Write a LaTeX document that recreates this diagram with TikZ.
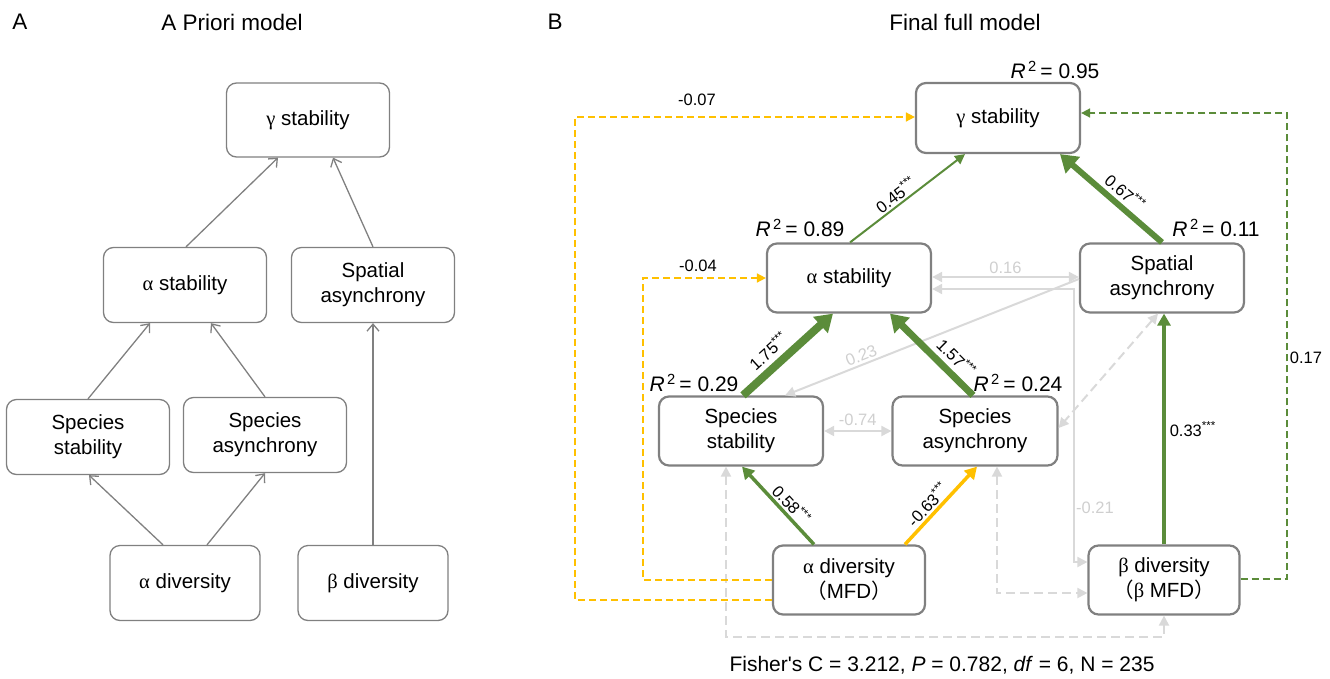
\documentclass[tikz,border=0pt]{standalone}
\usepackage{fontspec}
\setmainfont{Liberation Sans}
\newfontfamily\grk{Liberation Serif}
\newfontfamily\cjkfont{Noto Sans CJK SC}
\usetikzlibrary{arrows.meta,calc}
\definecolor{agray}{HTML}{808080}
\definecolor{lgray}{HTML}{D9D9D9}
\definecolor{lgtext}{HTML}{CFCFCF}
\definecolor{sgreen}{HTML}{5B8C3A}
\definecolor{syellow}{HTML}{FFC000}
\newcommand\myfs[2]{\fontsize{#1}{#2}\selectfont}
\newcommand\stars{\textsuperscript{***}}
\newcommand\rsq[1]{\textit{R}\textsuperscript{\,2}\,= #1}
\begin{document}
\begin{tikzpicture}[x=1pt,y=-1pt,
  boxA/.style={draw=agray, line width=1.3pt, rounded corners=10pt, fill=white, align=center, font=\myfs{20.5}{25}, inner sep=0pt},
  boxB/.style={draw=agray, line width=2.2pt, rounded corners=10pt, fill=white, align=center, font=\myfs{20.5}{25}, inner sep=0pt},
  arrA/.style={draw=agray, line width=1.3pt, -{Straight Barb[length=7pt,width=12pt,line width=1.3pt]}},
  lab/.style={font=\myfs{16.5}{19}, inner sep=2pt},
  rlab/.style={font=\myfs{21}{24}, inner sep=0pt},
  ttl/.style={font=\myfs{22.5}{26}, inner sep=0pt},
  gthin/.style={draw=sgreen, line width=2pt, -{Triangle[length=10pt,width=10pt]}},
  gmid/.style={draw=sgreen, line width=3.5pt, -{Triangle[length=12pt,width=13pt]}},
  ymid/.style={draw=syellow, line width=3.5pt, -{Triangle[length=12pt,width=13pt]}},
  gthick/.style={draw=sgreen, line width=#1, -{Triangle[length=17pt,width=21pt]}},
  lg/.style={draw=lgray, line width=2pt},
  lgd/.style={draw=lgray, line width=2pt, dash pattern=on 9pt off 5pt},
  lgtip/.style={{Triangle[length=10pt,width=10pt]}-{Triangle[length=10pt,width=10pt]}},
  ydash/.style={draw=syellow, line width=1.6pt, dash pattern=on 7pt off 4pt, -{Triangle[length=9pt,width=9pt]}},
  gdash/.style={draw=sgreen, line width=1.6pt, dash pattern=on 7pt off 4pt, -{Triangle[length=9pt,width=9pt]}}
]
\useasboundingbox (0,0) rectangle (1330,678);

% ---------- Panel A ----------
\node[ttl] (labA) at (20,22) {A};
\node[ttl] (titA) at (232,22) {A Priori model};
\node[boxA, minimum width=163pt, minimum height=74pt] (gA) at (308,120) {{\grk γ} stability};
\node[boxA, minimum width=163pt, minimum height=75pt] (asA) at (185,285) {{\grk α} stability};
\node[boxA, minimum width=163pt, minimum height=75pt] (spA) at (373,285) {Spatial\\asynchrony};
\node[boxA, minimum width=163pt, minimum height=75pt] (ssA) at (88,437) {Species\\stability};
\node[boxA, minimum width=163pt, minimum height=75pt] (saA) at (265,435) {Species\\asynchrony};
\node[boxA, minimum width=150pt, minimum height=75pt] (adA) at (185,583) {{\grk α} diversity};
\node[boxA, minimum width=150pt, minimum height=75pt] (bdA) at (373,583) {{\grk β} diversity};

\draw[arrA] ([xshift=1pt]asA.north) -- ([xshift=-30pt]gA.south);
\draw[arrA] (spA.north) -- ([xshift=25pt]gA.south);
\draw[arrA] (ssA.north) -- ([xshift=-35pt]asA.south);
\draw[arrA] (saA.north) -- ([xshift=26pt]asA.south);
\draw[arrA] ([xshift=-22pt]adA.north) -- ([xshift=1pt]ssA.south);
\draw[arrA] ([xshift=22pt]adA.north) -- (saA.south);
\draw[arrA] (bdA.north) -- (spA.south);

% ---------- Panel B ----------
\node[ttl] (labB) at (555,22) {B};
\node[ttl] (titB) at (965,22) {Final full model};

\node[boxB, minimum width=164pt, minimum height=70pt] (gB) at (998,118) {{\grk γ} stability};
\node[boxB, minimum width=164pt, minimum height=69pt] (asB) at (849,278) {{\grk α} stability};
\node[boxB, minimum width=164pt, minimum height=69pt] (spB) at (1162,278) {Spatial\\asynchrony};
\node[boxB, minimum width=164pt, minimum height=69pt] (ssB) at (741,431) {Species\\stability};
\node[boxB, minimum width=165pt, minimum height=69pt] (saB) at (975,431) {Species\\asynchrony};
\node[boxB, minimum width=152pt, minimum height=69pt] (adB) at (849,580) {{\grk α} diversity\\{\cjkfont （}MFD{\cjkfont ）}};
\node[boxB, minimum width=151pt, minimum height=69pt] (bdB) at (1164,580) {{\grk β} diversity\\{\cjkfont （}{\grk β} MFD{\cjkfont ）}};

% R^2 labels
\node[rlab] (r1) at (1055,70) {\rsq{0.95}};
\node[rlab] (r2) at (800,228) {\rsq{0.89}};
\node[rlab] (r3) at (1216,228) {\rsq{0.11}};
\node[rlab] (r4) at (694,383) {\rsq{0.29}};
\node[rlab] (r5) at (1018,383) {\rsq{0.24}};

% light gray connections (drawn first)
\draw[lg, lgtip] ([yshift=1pt]asB.east) -- node[lab, above, text=lgtext] {0.16} ([yshift=1pt]spB.west);
\coordinate (c21) at (1074,289);
\draw[lg, lgtip] ([yshift=-11pt]asB.east) -- (c21) |- ([yshift=18pt]bdB.west);
\node[lab, text=lgtext] (l21) at (1095,508) {-0.21};
\draw[lg, -{Triangle[length=10pt,width=10pt]}] ([yshift=-1pt]spB.west) -- node[lab, pos=0.73, sloped, above, text=lgtext] {0.23} ([xshift=44pt]ssB.north);
\draw[lgd, lgtip] ([xshift=-4pt]spB.south) -- ([yshift=3pt]saB.east);
\draw[lg, lgtip] (ssB.east) -- node[lab, above, text=lgtext, yshift=2pt] {-0.74} (saB.west);
\coordinate (c3) at (946,637);
\draw[lgd, lgtip] ([xshift=-15pt]ssB.south) |- (c3) -| (bdB.south);
\draw[lgd, lgtip] ([xshift=22pt]saB.south) |- ([yshift=-13pt]bdB.west);

% dashed yellow / green
\coordinate (c7) at (575,117);
\draw[ydash] ([yshift=-20pt]adB.west) -| (c7) -- (gB.west |- c7);
\node[lab] (l07) at (697,100) {-0.07};
\coordinate (c4) at (643,278);
\draw[ydash] (adB.west) -| (c4) -- (asB.west);
\node[lab] (l04) at (698,266) {-0.04};
\coordinate (c17) at (1287,113);
\draw[gdash] ([yshift=1pt]bdB.east) -| (c17) -- (gB.east |- c17);
\node[lab] (l17) at (1306,358) {0.17};

% solid paths
\draw[gthin] ([xshift=1pt]asB.north) -- node[lab, pos=0.45, sloped, above] {0.45\stars} ([xshift=-33pt]gB.south);
\draw[gthick=6pt] (spB.north) -- node[lab, pos=0.45, sloped, above, yshift=2pt] {0.67\stars} ([xshift=62pt]gB.south);
\draw[gthick=8pt] ([xshift=2pt]ssB.north) -- node[lab, pos=0.4, sloped, above, yshift=3pt] {1.75\stars} ([xshift=-16pt]asB.south);
\draw[gthick=7pt] ([xshift=-2pt]saB.north) -- node[lab, pos=0.33, sloped, above, yshift=3pt] {1.57\stars} ([xshift=41pt]asB.south);
\draw[gmid] ([xshift=-35pt]adB.north) -- node[lab, pos=0.42, sloped, above] {0.58\stars} ([xshift=1pt]ssB.south);
\draw[ymid] ([xshift=56pt]adB.north) -- node[lab, pos=0.42, sloped, above] {-0.63\stars} ([xshift=2pt]saB.south);
\draw[gmid] (bdB.north) -- (bdB.north |- spB.south) node[lab, pos=0.5, right, xshift=2pt] {0.33\stars};

% footer
\node[font=\myfs{21}{24}, inner sep=0pt] (foot) at (942,665) {Fisher\textquotesingle s C = 3.212, \textit{P} = 0.782, \textit{df} = 6, N = 235};
\end{tikzpicture}
\end{document}
